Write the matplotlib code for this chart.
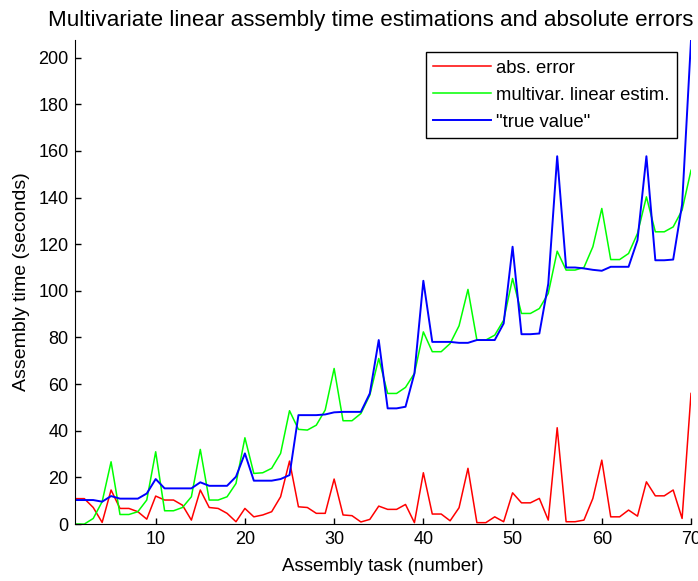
import matplotlib
matplotlib.use("Agg")
from matplotlib import pyplot as plt

# task numbers 1..70
tasks = list(range(1, 71))

true_val = [10.3, 10.3, 10.3, 9.6, 12, 10.9, 10.9, 10.9, 13.1, 19.3,
            15.3, 15.3, 15.3, 15.3, 17.9, 16.4, 16.4, 16.4, 20.3, 30.3,
            18.6, 18.6, 18.6, 19.3, 21, 46.7, 46.7, 46.7, 47, 47.9,
            48.1, 48.1, 48.1, 56, 78.9, 49.6, 49.6, 50.3, 64.6, 104.3,
            78.1, 78.1, 78.1, 77.7, 77.7, 78.9, 78.9, 78.9, 86, 118.9,
            81.4, 81.4, 81.7, 103, 157.7, 110, 110, 109.6, 109, 108.6,
            110.3, 110.3, 110.3, 121.7, 157.7, 113.1, 113.1, 113.4, 137, 207.5]

estim = [0, 0, 2.4, 9.6, 26.7, 4.1, 4.1, 5.3, 10.3, 31,
         5.7, 5.7, 7.1, 11.7, 32, 10.3, 10.3, 11.7, 17.4, 37,
         21.7, 22, 23.9, 30.3, 48.6, 40.6, 40.3, 42.4, 48.9, 66.7,
         44.3, 44.3, 47.4, 55.3, 71, 56, 56, 58.6, 64.6, 82.4,
         73.9, 73.9, 77.4, 85, 100.6, 78.9, 78.9, 81, 87.4, 105.3,
         90.3, 90.3, 92.4, 98.9, 117, 108.9, 108.9, 110, 118.9, 135.3,
         113.4, 113.4, 116, 124.6, 140.3, 125.3, 125.3, 127.4, 134.6, 151.7]

abs_err = [10.9, 10.9, 7.1, 0.7, 14.6, 6.7, 6.7, 5.3, 2.1, 12,
           10.3, 10.3, 8.1, 1.7, 14.6, 7.1, 6.7, 4.6, 1, 6.7,
           3.1, 3.9, 5.3, 11.7, 27, 7.4, 7.1, 4.6, 4.6, 19.3,
           3.9, 3.6, 0.9, 2, 7.7, 6.3, 6.3, 8.4, 0.6, 22,
           4.3, 4.3, 1.4, 7, 23.9, 0.6, 0.6, 3.1, 1, 13.4,
           9.1, 9.1, 11, 1.7, 41.3, 1, 1, 1.7, 11, 27.4,
           3.1, 3.1, 6, 3.4, 18.1, 12.1, 12.1, 14.6, 2.4, 56]

plt.rcParams['font.family'] = ['Liberation Sans', 'DejaVu Sans']

fig = plt.figure(figsize=(6.98, 5.81), dpi=100)
ax = fig.add_axes([0.108, 0.098, 0.882, 0.833])

ax.plot(tasks, abs_err, color='#ff0000', lw=1.1, label='abs. error')
ax.plot(tasks, estim, color='#00ff00', lw=1.1, label='multivar. linear estim.')
ax.plot(tasks, true_val, color='#0000ff', lw=1.4, label='"true value"')

ax.set_xlim(1, 70)
ax.set_ylim(0, max(true_val))
ax.set_xticks([10, 20, 30, 40, 50, 60, 70])
ax.set_yticks(range(0, 201, 20))
ax.tick_params(direction='in', length=4, width=1, labelsize=13, pad=5)
ax.spines['top'].set_visible(False)
ax.spines['right'].set_visible(False)

ax.set_xlabel('Assembly task (number)', fontsize=13.5, labelpad=7)
ax.set_ylabel('Assembly time (seconds)', fontsize=14, labelpad=6)
# title sits a little left of the axes centre, as in the original
ax.set_title('Multivariate linear assembly time estimations and absolute errors',
             fontsize=16.1, pad=10, x=0.48)

leg = ax.legend(loc='upper right', bbox_to_anchor=(0.977, 0.975),
                borderaxespad=0, fontsize=13.3,
                fancybox=False, edgecolor='black', framealpha=1,
                handlelength=3.1, handletextpad=0.3, borderpad=0.4,
                labelspacing=0.55)
leg.get_frame().set_linewidth(1)

fig.savefig('out.png', dpi=100)
